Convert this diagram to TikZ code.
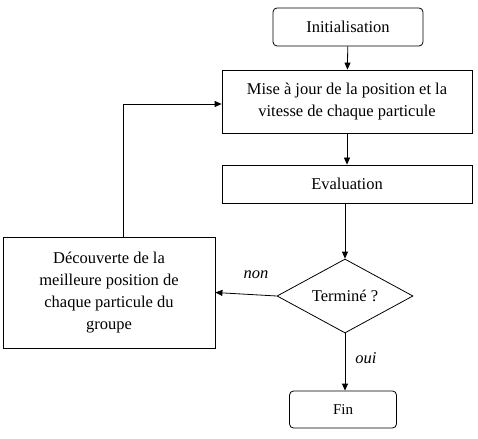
\documentclass[tikz,border=0pt]{standalone}
\usepackage{fontspec}
\setmainfont{Liberation Serif}
\usetikzlibrary{shapes.geometric,arrows.meta}
\begin{document}
\begin{tikzpicture}[x=1pt,y=-1pt,
  box/.style={draw,line width=0.8pt,minimum width=#1,align=center,inner sep=0pt},
  rbox/.style={draw,line width=0.8pt,rounded corners=4pt,minimum width=#1,inner sep=0pt},
  arr/.style={-{Triangle[length=7pt,width=6pt]},line width=0.8pt},
  txt/.style={font=\fontsize{16.5}{22.5}\selectfont},
  lab/.style={font=\itshape\fontsize{16.5}{20}\selectfont,inner sep=0pt}]
\useasboundingbox (0,0) rectangle (478,438);
\node[rbox=150pt,minimum height=38pt,txt] (init) at (348,27) {Initialisation};
\node[box=250pt,minimum height=63pt,txt] (maj) at (347,101.5) {Mise à jour de la position et la\\vitesse de chaque particule};
\node[box=250pt,minimum height=38pt,txt] (eval) at (347,184) {Evaluation};
\node[draw,line width=0.8pt,diamond,aspect=1.84,minimum width=136pt,minimum height=74pt,inner sep=0pt,txt] (term) at (345,296) {Terminé ?};
\node[box=212pt,minimum height=111pt,txt,font=\fontsize{16.5}{22}\selectfont] (dec) at (109,292.5) {Découverte de la\\meilleure position de\\chaque particule du\\groupe};
\node[rbox=107pt,minimum height=37pt,font=\fontsize{15}{17}\selectfont] (fin) at (343,409.5) {Fin};
\coordinate (c1) at (123,104);
\draw[arr] (init) -- (maj);
\draw[arr] (maj) -- (eval);
\draw[arr] (eval.south -| term.north) -- (term.north);
\draw[arr] (term.west) -- (dec.east);
\node[lab] (non) at (256,275) {non};
\draw[arr] (term.south) -- (term.south |- fin.north);
\node[lab] (oui) at (366,358) {oui};
\draw[arr] (dec.north -| c1) -- (c1) -- (maj.west |- c1);
\end{tikzpicture}
\end{document}
